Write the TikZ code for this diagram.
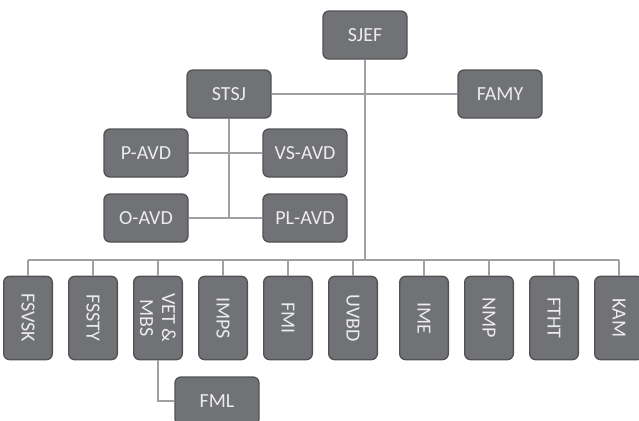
\documentclass[tikz,border=0pt]{standalone}
\usepackage{fontspec}
\setmainfont{Carlito}
\definecolor{boxgray}{RGB}{113,114,118}
\definecolor{edgegray}{RGB}{82,82,84}
\definecolor{linegray}{RGB}{160,160,162}
\definecolor{textwhite}{RGB}{236,236,236}
\usetikzlibrary{positioning}

\tikzset{
  unit/.style={draw=edgegray, line width=1pt, fill=boxgray, rounded corners=4.5pt,
    text=textwhite, minimum width=63pt, minimum height=36pt, inner sep=1pt,
    align=center, font=\fontsize{15}{16.5}\selectfont},
  vunit/.style={unit, rotate=-90, minimum width=62.5pt, minimum height=36.5pt},
  link/.style={draw=linegray, line width=0.8pt}
}

\begin{document}
\begin{tikzpicture}[x=0.75pt,y=0.75pt,yscale=-1,xscale=1]
	\useasboundingbox (0,0) rectangle (639,421);

	%Top level
	\node (sjef) at (365,35) [unit] {SJEF};
	\node (stsj) at (229,94) [unit] {STSJ};
	\node (famy) at (500,94) [unit] {FAMY};

	%Departments
	\node (pavd) at (146,153) [unit] {P-AVD};
	\node (vsavd) at (305,153) [unit] {VS-AVD};
	\node (oavd) at (146,218) [unit] {O-AVD};
	\node (plavd) at (305,218) [unit] {PL-AVD};

	%Bottom row
	\node (fsvsk) at (28,318) [vunit] {FSVSK};
	\node (fssty) at (93,318) [vunit] {FSSTY};
	\node (vetmbs) at (158,318) [vunit] {VET \&\\MBS};
	\node (imps) at (223,318) [vunit] {IMPS};
	\node (fmi) at (288,318) [vunit] {FMI};
	\node (uvbd) at (353,318) [vunit] {UVBD};
	\node (ime) at (424,318) [vunit] {IME};
	\node (nmp) at (489,318) [vunit] {NMP};
	\node (ftht) at (554,318) [vunit] {FTHT};
	\node (kam) at (619,318) [vunit] {KAM};
	\node (fml) at (217,401) [unit] {FML};

	\coordinate (bus) at (365,260);
	\coordinate (stsjend) at (229,218);

	%Connectors
	\path [link] (sjef) -- (bus);
	\path [link] (stsj) -- (famy);
	\path [link] (stsj) -- (stsjend);
	\path [link] (pavd) -- (vsavd);
	\path [link] (oavd) -- (plavd);
	\path [link] (fsvsk |- bus) -- (kam |- bus);
	\foreach \u in {fsvsk,fssty,vetmbs,imps,fmi,uvbd,ime,nmp,ftht,kam}
	  \path [link] (\u |- bus) -- (\u);
	\path [link] (vetmbs) |- (fml);
\end{tikzpicture}
\end{document}
